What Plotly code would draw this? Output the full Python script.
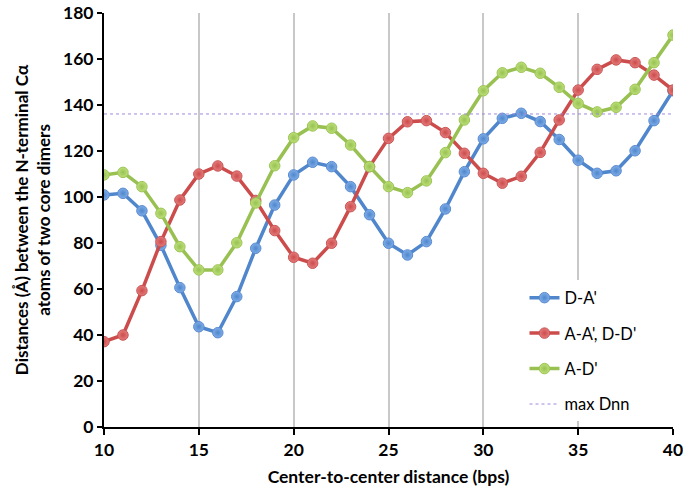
import plotly.graph_objects as go

x = list(range(10, 41))
d_a = [100.9, 101.6, 94.0, 79.0, 60.6, 43.6, 41.0, 56.7, 77.7, 96.5, 109.6, 115.1, 113.2, 104.5, 92.3,
       79.9, 74.8, 80.6, 94.8, 111.0, 125.3, 134.2, 136.4, 132.8, 125.0, 116.0, 110.3, 111.4, 120.1, 133.2, 146.2]
a_a = [37.1, 40.0, 59.3, 80.6, 98.7, 110.0, 113.5, 109.1, 98.5, 85.4, 73.8, 71.2, 79.9, 95.8, 113.2,
       125.5, 132.7, 133.2, 128.0, 119.0, 110.3, 106.0, 109.0, 119.4, 133.5, 146.5, 155.5, 159.6, 158.4, 153.0, 146.5]
a_d = [109.6, 110.7, 104.5, 92.9, 78.4, 68.3, 68.3, 80.1, 97.4, 113.6, 125.8, 130.9, 129.9, 122.6, 113.2,
       104.5, 101.9, 107.0, 119.3, 133.5, 146.2, 154.0, 156.4, 153.8, 147.7, 140.7, 137.0, 139.0, 146.8, 158.4, 170.4]
max_dnn = 136.1
names = ["D-A'", "A-A', D-D'", "A-D'", "max Dnn"]

fig = go.Figure()
styles = [
    (d_a, "#4F86CC", "#7FAEE8", "#5A8AD0"),
    (a_a, "#CC4C4C", "#E57C7C", "#C95555"),
    (a_d, "#98C152", "#BDE07A", "#9CC453"),
]
for i, (ys, lc, mc, oc) in enumerate(styles):
    fig.add_trace(go.Scatter(
        x=x, y=ys, name=names[i], mode="lines+markers", legendgroup=str(i),
        line=dict(color=lc, width=3.5),
        marker=dict(size=10.5, color=mc, line=dict(color=oc, width=1),
                    gradient=dict(type="radial", color=lc)),
    ))
fig.add_trace(go.Scatter(
    x=[x[0], x[-1]], y=[max_dnn, max_dnn], name=names[3], mode="lines", legendgroup="3",
    line=dict(color="#A088D8", width=1, dash="dot"),
))

fig.update_layout(
    width=683, height=490,
    margin=dict(l=104, r=10, t=13, b=63),
    paper_bgcolor="white", plot_bgcolor="white",
    font=dict(family="Lato, Open Sans, sans-serif", color="black"),
    showlegend=True,
    legend=dict(x=0.739, y=0.354, xanchor="left", yanchor="top",
                font=dict(size=16.5, family="Lato, sans-serif"),
                bgcolor="white", tracegroupgap=11, traceorder="grouped",
                itemwidth=30),
    xaxis=dict(range=[10, 40], tickvals=[10, 15, 20, 25, 30, 35, 40],
               automargin=False, ticklabeloverflow="allow",
               showgrid=True, gridcolor="#C8C8C8", gridwidth=1.5,
               showline=True, linecolor="black", linewidth=2,
               ticks="outside", ticklen=6, tickwidth=2, tickcolor="black",
               tickfont=dict(size=17.5, family="Lato, sans-serif", weight="bold"),
               title=dict(text="<b>Center-to-center distance (bps)</b>", font=dict(size=17.5), standoff=12),
               zeroline=False),
    yaxis=dict(range=[0, 180], tickvals=list(range(0, 181, 20)),
               automargin=False, ticklabeloverflow="allow",
               showgrid=False,
               showline=True, linecolor="black", linewidth=2,
               ticks="outside", ticklen=5, tickwidth=2, tickcolor="black",
               tickfont=dict(size=17.5, family="Lato, sans-serif", weight="bold"),
               title=dict(text="<b>Distances (Å) between the N-terminal Cα<br>atoms of two core dimers</b>",
                          font=dict(size=17), standoff=8),
               zeroline=False),
)

fig.write_html("out.html", config={"displayModeBar": False},
               post_script="document.body.style.margin='0';")
